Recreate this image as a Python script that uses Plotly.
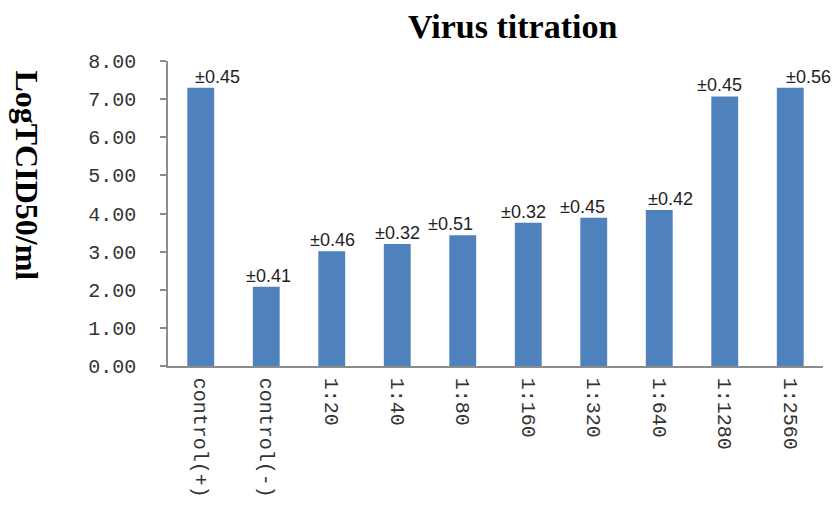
import plotly.graph_objects as go

categories = ["control(+)", "control(-)", "1:20", "1:40", "1:80", "1:160",
              "1:320", "1:640", "1:1280", "1:2560"]
values = [7.30, 2.08, 3.01, 3.20, 3.43, 3.76, 3.89, 4.09, 7.07, 7.30]
errors = ["0.45", "0.41", "0.46", "0.32", "0.51", "0.32", "0.45", "0.42", "0.45", "0.56"]
ytick_vals = [0, 1, 2, 3, 4, 5, 6, 7, 8]
ytick_text = ["0.00", "1.00", "2.00", "3.00", "4.00", "5.00", "6.00", "7.00", "8.00"]

# label horizontal offsets (style only)
label_shift = [17, 2, 1, 0, -12, -5, -11, 11, -5, 18]

fig = go.Figure()
fig.add_trace(go.Bar(x=categories, y=values, marker_color="#4F81BD",
                     marker_line_width=0, width=0.41, cliponaxis=False))

for c, v, e, s in zip(categories, values, errors, label_shift):
    fig.add_annotation(x=c, y=v, text="\u00b1" + e, showarrow=False,
                       xanchor="center", yanchor="bottom", xshift=s, yshift=-1,
                       font=dict(family="Liberation Sans, Arial", size=18, color="#222222"))

fig.add_annotation(text="<b>Virus titration</b>", xref="paper", yref="paper",
                   x=(512 - 168) / 655, y=1 + (61 - 26) / 308, showarrow=False,
                   xanchor="center", yanchor="middle",
                   font=dict(family="Liberation Serif, Times New Roman", size=34, color="#000000"))
fig.add_annotation(text="<b>LogTCID50/ml</b>", xref="paper", yref="paper",
                   x=-(168 - 27) / 655, y=(368.5 - 176) / 308, showarrow=False,
                   xanchor="center", yanchor="middle", textangle=90,
                   font=dict(family="Liberation Serif, Times New Roman", size=32, color="#000000"))

fig.update_layout(
    width=838, height=510,
    margin=dict(l=168, r=15, t=61, b=141),
    plot_bgcolor="white", paper_bgcolor="white",
    showlegend=False,
    bargap=0.59,
)
fig.update_xaxes(type="category", range=[-0.5, 9.5], showline=True, linecolor="#8c8c8c",
                 linewidth=1.5, ticks="", tickangle=90,
                 tickfont=dict(family="Liberation Mono, DejaVu Sans Mono", size=20, color="#333333"),
                 ticklabelstandoff=6, showgrid=False, zeroline=False)
fig.update_yaxes(range=[0, 8], tickvals=ytick_vals, ticktext=ytick_text, showline=True,
                 linecolor="#8c8c8c", linewidth=1.5, ticks="outside", ticklen=6,
                 tickcolor="#8c8c8c", tickwidth=1.5,
                 tickfont=dict(family="Liberation Mono, DejaVu Sans Mono", size=20, color="#333333"),
                 ticklabelstandoff=20, showgrid=False, zeroline=False)

fig.write_html("out.html", config={"displayModeBar": False},
               post_script="document.body.style.margin='0';document.body.style.overflow='hidden';")
